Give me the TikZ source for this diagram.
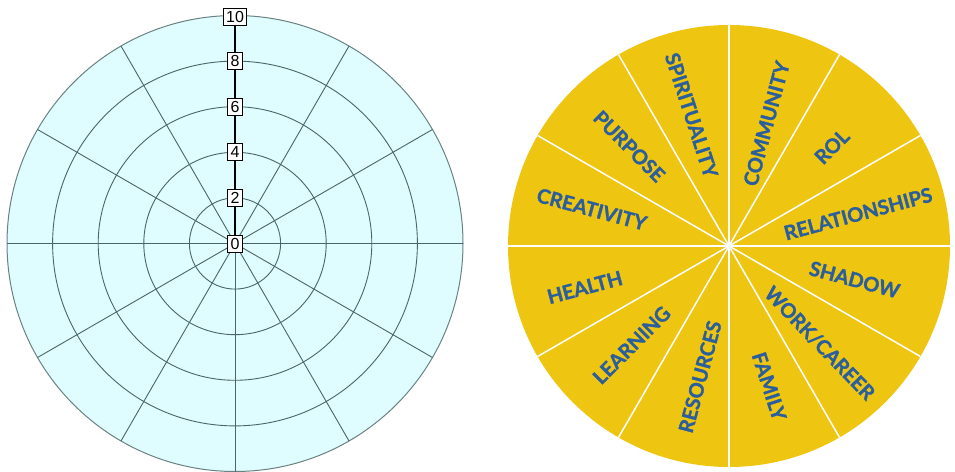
\documentclass[tikz,border=0pt]{standalone}
\usepackage{fontspec}
\setmainfont{Liberation Sans}
\newfontfamily\wheelfont[BoldFeatures={FakeBold=1.3}]{Lato}
\usetikzlibrary{calc}
\definecolor{wheelcyan}{HTML}{DFFCFE}
\definecolor{gridc}{HTML}{4A6666}
\definecolor{outerc}{HTML}{6A8282}
\definecolor{wheelyellow}{HTML}{EEC511}
\definecolor{txtblue}{HTML}{2A5E9C}
\tikzset{
  gridline/.style={draw=gridc, line width=0.9pt},
  scalebox/.style={draw=black, fill=white, line width=0.9pt, inner sep=0pt,
    minimum width=15pt, minimum height=17pt, font=\fontsize{16}{16}\selectfont},
  sep/.style={draw=white, line width=1.5pt},
  lbl/.style={text=txtblue, inner sep=0pt, font=\wheelfont\bfseries\fontsize{20}{20}\selectfont}
}
\begin{document}
\begin{tikzpicture}[x=1pt,y=1pt]
\useasboundingbox (0,0) rectangle (955,471);
% ---------- left wheel ----------
\coordinate (L) at (235,227.5);
\fill[wheelcyan] (L) circle (228pt);
\foreach \r in {45.6,91.2,136.8,182.4}{\draw[gridline] (L) circle (\r pt);}
\draw[draw=outerc, line width=1pt] (L) circle (228pt);
\foreach \a in {0,30,...,330}{\draw[gridline] (L) -- ++(\a:228pt);}
\node[scalebox] (n0) at (L) {0};
\node[scalebox] (n2) at ($(L)+(0,45.6)$) {2};
\node[scalebox] (n4) at ($(L)+(0,91.2)$) {4};
\node[scalebox] (n6) at ($(L)+(0,136.8)$) {6};
\node[scalebox] (n8) at ($(L)+(0,182.4)$) {8};
\node[scalebox, minimum width=23pt] (n10) at ($(L)+(0,227)$) {10};
\draw[black, line width=1.3pt] (n0) -- (n2);
\draw[black, line width=1.3pt] (n2) -- (n4);
\draw[black, line width=1.3pt] (n4) -- (n6);
\draw[black, line width=1.3pt] (n6) -- (n8);
\draw[black, line width=1.3pt] (n8) -- (n10);
% ---------- right wheel ----------
\coordinate (R) at (729,225);
\fill[wheelyellow] (R) circle (221pt);
\foreach \a in {0,30,...,330}{\draw[sep] (R) -- ++(\a:221pt);}
\fill[white] (R) circle (2pt);
\node[lbl, rotate=75]  (community) at ($(R)+(73:128pt)$) {COMMUNITY};
\node[lbl, rotate=45]  (rol) at ($(R)+(44:143pt)$) {ROL};
\node[lbl, rotate=15]  (relationships) at ($(R)+(14:133pt)$) {RELATIONSHIPS};
\node[lbl, rotate=-15] (shadow) at ($(R)+(-15:130pt)$) {SHADOW};
\node[lbl, rotate=-46] (work) at ($(R)+(-47:133pt)$) {WORK/CAREER};
\node[lbl, rotate=-72] (family) at ($(R)+(-74:146pt)$) {FAMILY};
\node[lbl, rotate=75]  (resources) at ($(R)+(257.5:134pt)$) {RESOURCES};
\node[lbl, rotate=45]  (learning) at ($(R)+(225.5:139pt)$) {LEARNING};
\node[lbl, rotate=15]  (health) at ($(R)+(196:150pt)$) {HEALTH};
\node[lbl, rotate=-15] (creativity) at ($(R)+(165:142pt)$) {CREATIVITY};
\node[lbl, rotate=-45] (purpose) at ($(R)+(135:141pt)$) {PURPOSE};
\node[lbl, rotate=-72] (spirituality) at ($(R)+(106:136pt)$) {SPIRITUALITY};
\end{tikzpicture}
\end{document}
